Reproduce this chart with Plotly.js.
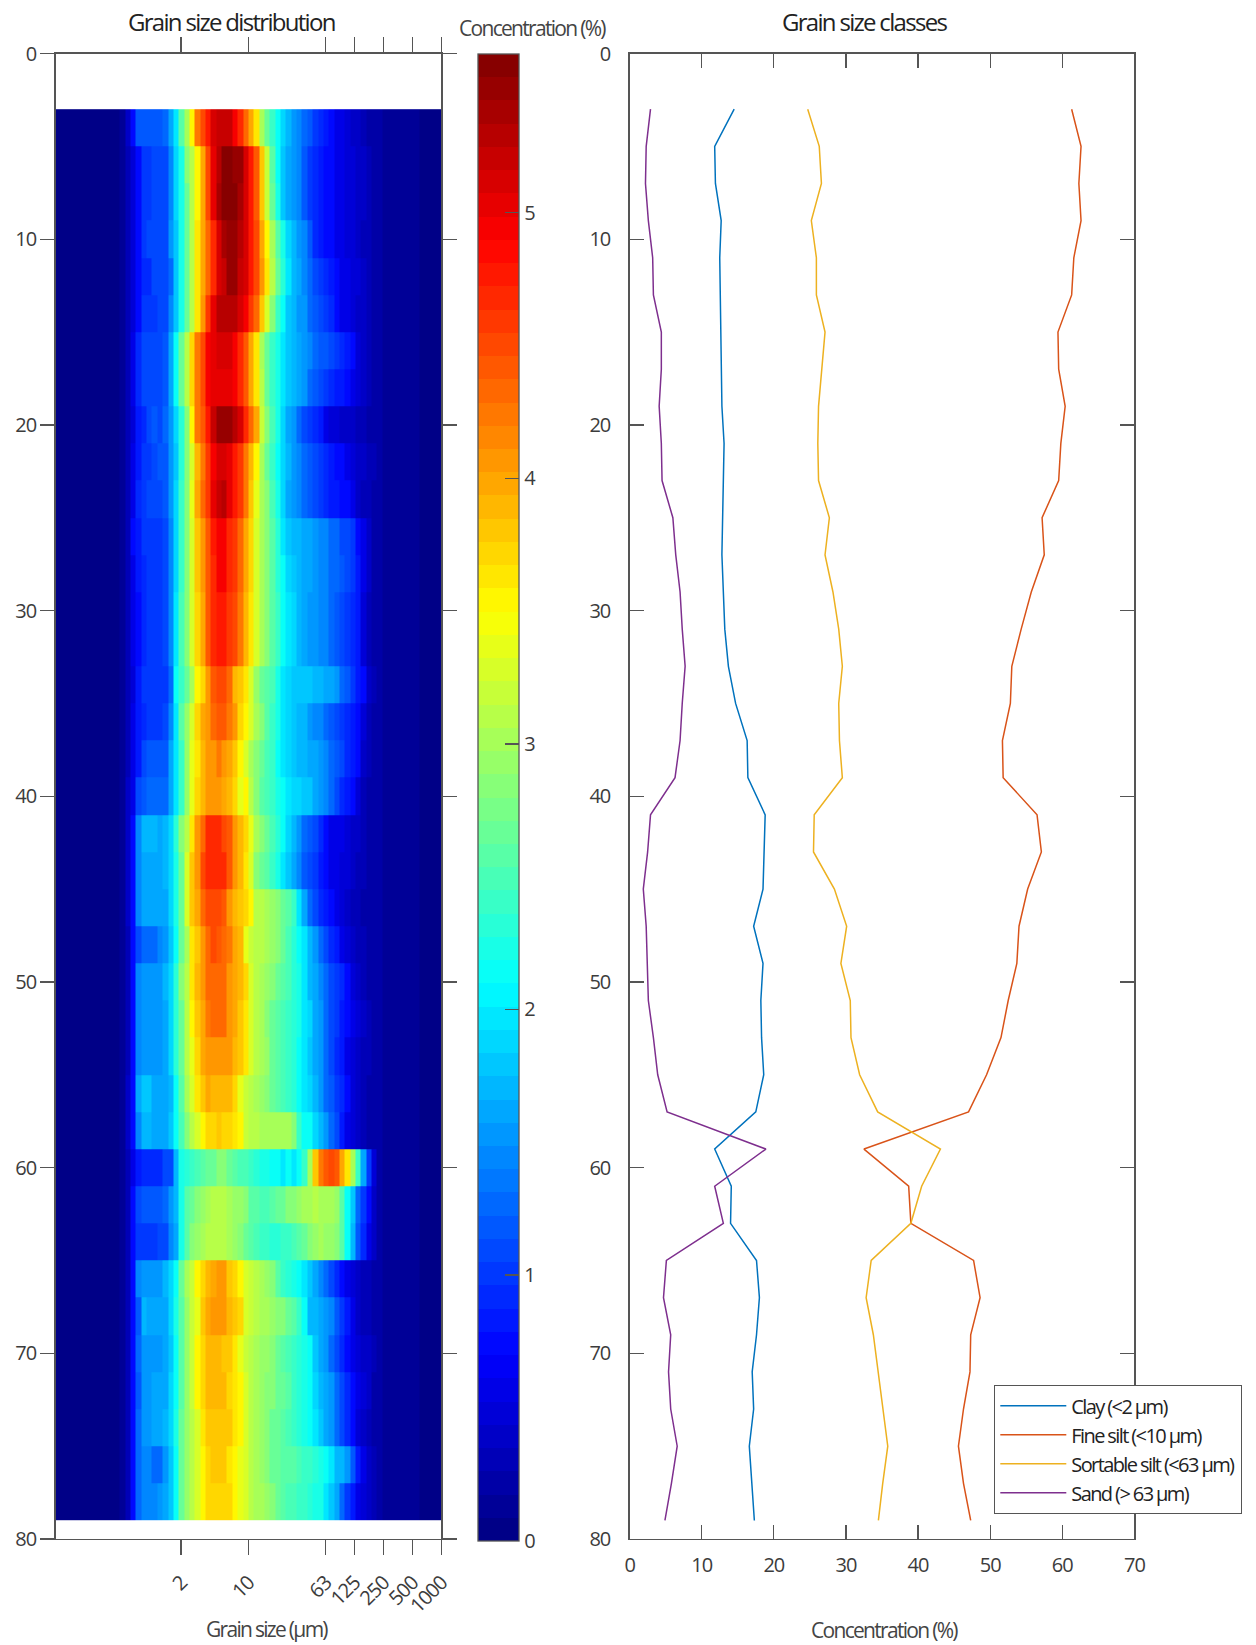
<!DOCTYPE html>
<html><head><meta charset="utf-8">
<script src="https://cdn.plot.ly/plotly-3.0.1.min.js"></script>
<style>html,body{margin:0;padding:0;background:#fff}
text{letter-spacing:-1px}
.annotation text,text.annotation-text{letter-spacing:-1.7px}
text.legendtext{letter-spacing:-1.6px}</style>
</head><body><div id="c" style="width:1256px;height:1645px"></div>
<script>
const grainEdges=[0.1,0.1136,0.1292,0.1468,0.1668,0.1896,0.2154,0.2448,0.2783,0.3162,0.3594,0.4084,0.4642,0.5275,0.5995,0.6813,0.7743,0.88,1,1.136,1.292,1.468,1.668,1.896,2.154,2.448,2.783,3.162,3.594,4.084,4.642,5.275,5.995,6.813,7.743,8.8,10,11.36,12.92,14.68,16.68,18.96,21.54,24.48,27.83,31.62,35.94,40.84,46.42,52.75,59.95,68.13,77.43,88,100,113.6,129.2,146.8,166.8,189.6,215.4,244.8,278.3,316.2,359.4,408.4,464.2,527.5,599.5,681.3,774.3,880,1000];
const depthEdges=[3,5,7,9,11,13,15,17,19,21,23,25,27,29,31,33,35,37,39,41,43,45,47,49,51,53,55,57,59,61,63,65,67,69,71,73,75,77,79];
const depthPoints=[3,5,7,9,11,13,15,17,19,21,23,25,27,29,31,33,35,37,39,41,43,45,47,49,51,53,55,57,59,61,63,65,67,69,71,73,75,77,79];
// concentration in tenths of a percent: fine bins below and coarse bins above the core
const fineFloor=[0,0,0,0,0,0,0,0,0,0,0,0,1];
const coarseFloor=[1,1,1,1,1,1,1,0,0,0,0];
const coreRows=[
[4,7,12,12,12,12,12,13,16,20,26,30,35,42,45,48,51,52,52,52,49,47,43,40,36,30,27,24,21,19,17,15,14,13,12,10,9,8,7,6,6,5,4,4,3,2,2,2],
[3,5,7,10,10,11,11,11,14,19,22,28,31,35,40,45,50,53,56,56,55,55,51,48,44,38,32,26,21,18,16,15,14,12,10,9,8,7,7,6,6,5,5,4,4,3,2,2],
[3,5,7,10,10,11,11,11,14,19,22,27,31,35,40,45,50,54,56,56,56,54,51,48,44,38,32,27,22,18,16,15,14,12,10,9,8,7,7,6,6,5,5,4,4,3,2,2],
[3,5,7,10,11,11,11,11,15,18,22,27,31,36,40,43,47,51,54,55,55,53,51,48,45,40,35,30,26,22,19,17,15,14,12,9,8,7,7,6,6,5,5,4,3,3,2,2],
[3,5,7,9,9,11,11,11,13,18,22,27,31,36,40,43,47,51,52,55,55,52,51,48,45,41,36,31,27,23,20,17,16,14,13,11,10,9,8,7,6,6,5,5,4,3,2,2],
[3,5,7,10,10,10,11,11,14,18,22,27,31,36,41,46,50,53,53,53,53,51,49,46,43,38,33,28,24,21,18,17,15,15,13,12,11,10,9,7,6,6,5,4,4,3,2,2],
[3,6,9,11,11,11,11,12,16,21,27,31,37,42,45,49,50,51,51,51,49,47,44,40,36,30,27,24,22,20,18,17,16,15,14,13,12,12,11,10,9,8,7,5,4,3,2,2],
[3,6,9,11,11,11,11,12,16,21,27,31,37,42,45,49,50,50,50,50,49,47,44,40,36,31,27,24,22,20,18,17,16,15,13,12,11,10,9,8,8,7,6,5,4,3,2,2],
[3,5,8,9,11,12,11,13,15,19,23,28,35,42,44,48,52,55,55,55,53,51,47,43,40,32,28,25,22,19,16,15,13,11,10,9,8,6,5,5,4,4,4,3,3,2,2,2],
[3,6,8,10,10,11,12,12,15,18,23,28,33,39,42,46,49,51,51,50,48,46,42,39,35,30,27,24,21,19,17,15,14,13,12,11,10,9,8,7,7,6,5,4,4,3,3,2],
[3,6,9,10,11,11,11,12,15,19,24,28,34,40,43,46,50,52,53,50,48,46,42,38,34,30,28,25,22,19,16,15,14,13,12,11,10,9,8,8,7,7,6,4,3,3,2,2],
[3,7,8,10,10,10,10,11,14,19,24,28,33,38,41,44,48,49,49,47,46,43,40,37,33,30,28,26,23,20,18,17,17,16,16,15,14,14,13,13,11,11,10,7,6,4,2,2],
[3,6,8,9,10,10,10,11,14,19,24,28,33,38,41,44,47,49,49,47,46,43,40,37,33,30,28,26,23,21,19,18,17,16,16,15,14,14,13,13,12,11,10,8,6,4,2,2],
[3,6,7,9,10,10,10,11,14,20,25,28,33,37,40,44,47,48,48,46,45,42,39,36,33,30,28,26,24,21,20,19,17,16,15,15,14,14,13,12,11,10,9,8,5,3,2,2],
[3,6,7,9,10,10,10,11,14,20,25,28,33,37,40,44,47,48,48,46,45,42,39,36,33,30,28,26,24,21,20,19,17,16,15,15,14,14,13,12,11,10,9,8,5,3,2,2],
[3,5,8,10,10,10,10,10,13,21,24,27,30,35,37,41,44,45,45,43,39,38,36,33,29,27,26,25,22,20,19,18,18,18,18,17,17,16,16,15,13,12,10,8,7,4,3,2],
[3,6,8,9,10,10,10,11,14,20,26,29,33,37,40,41,43,44,44,42,41,37,35,33,30,28,26,24,22,20,19,18,17,17,15,14,14,13,12,11,10,9,8,7,5,3,2,2],
[3,6,8,11,12,12,12,12,16,20,24,29,34,36,39,41,41,42,41,40,38,35,33,30,28,27,25,24,21,20,19,18,17,17,16,16,15,14,13,12,11,9,8,7,4,3,2,2],
[4,6,11,12,13,13,13,13,16,20,24,29,34,37,39,41,41,41,40,39,37,34,35,31,28,26,25,24,22,21,20,19,19,18,18,16,15,14,13,11,9,8,7,5,3,2,2,2],
[4,7,14,17,17,17,16,17,19,23,28,31,36,41,43,47,47,47,45,44,41,39,37,34,30,28,27,25,23,21,19,17,15,13,12,11,9,7,6,6,6,5,4,4,3,2,2,2],
[4,7,14,16,16,16,16,17,19,22,27,33,38,41,45,47,47,47,47,44,41,39,36,33,28,27,26,24,22,20,18,16,14,12,11,10,8,7,6,6,5,5,4,3,3,2,2,2],
[4,7,14,16,16,16,16,16,19,22,27,33,38,40,43,45,45,45,44,41,39,38,37,35,31,31,30,29,28,27,26,24,20,16,13,11,9,8,7,6,5,4,3,3,2,2,2,2],
[3,7,11,13,13,13,14,15,18,21,27,30,36,38,41,43,45,44,43,42,40,39,34,32,31,31,30,29,28,27,25,23,21,20,17,15,13,11,9,8,6,5,4,3,3,2,2,2],
[3,7,14,15,15,15,15,17,19,23,28,31,36,39,41,43,43,43,43,41,40,39,37,33,31,30,29,28,27,26,25,23,22,20,17,16,14,13,11,10,9,7,5,4,3,2,2,2],
[3,7,14,15,15,15,15,16,19,23,27,31,35,38,40,42,43,43,43,41,40,38,36,33,31,30,28,27,26,25,24,23,22,20,19,16,15,13,11,10,8,7,6,5,4,3,2,2],
[3,7,14,15,15,15,15,16,19,23,27,31,34,37,40,41,41,41,41,41,39,38,36,33,31,30,29,27,26,25,24,23,21,20,18,16,15,13,11,9,8,6,5,4,3,3,2,2],
[4,7,16,18,18,16,16,16,17,21,26,30,33,36,38,40,39,39,39,39,37,34,32,31,30,29,28,27,26,25,24,23,21,20,19,17,15,13,12,10,9,7,5,4,3,2,2,2],
[4,7,14,17,17,16,16,16,18,21,25,28,31,33,35,37,37,38,37,37,36,35,32,31,31,30,30,30,30,30,30,28,24,21,21,19,17,15,13,11,8,6,5,4,3,2,2,2],
[3,6,8,9,9,9,9,11,11,17,22,23,24,25,26,27,27,28,28,27,26,25,25,24,23,22,22,21,21,20,21,20,21,24,30,38,42,44,45,44,40,36,30,24,16,10,5,2],
[3,7,11,12,12,12,12,13,15,17,22,26,27,28,29,30,31,31,31,30,29,29,28,26,26,25,25,26,27,27,28,28,29,30,30,31,30,30,30,29,26,21,18,13,10,7,4,2],
[3,7,10,10,10,10,11,11,14,16,22,26,28,29,30,31,31,31,31,30,29,28,27,26,25,24,24,23,23,24,24,25,26,27,28,29,30,29,29,28,26,21,17,12,9,6,4,2],
[3,7,14,15,15,15,15,17,19,21,27,30,32,35,37,39,40,41,41,38,37,35,33,32,31,30,29,28,26,24,23,22,21,20,18,16,14,13,11,9,7,6,5,4,3,3,2,2],
[3,7,12,17,16,16,16,16,19,22,26,29,32,34,38,40,41,41,41,39,38,37,33,32,31,30,30,29,28,28,27,26,24,21,17,17,16,15,14,12,10,8,6,4,3,3,2,2],
[3,7,13,15,15,15,15,16,18,21,26,29,32,35,37,39,39,39,38,38,36,34,32,31,30,29,29,28,27,26,25,24,23,22,21,18,16,15,13,11,9,7,6,5,4,4,3,2],
[3,7,12,15,15,16,16,16,19,21,26,29,32,35,37,39,39,39,39,37,36,35,33,31,30,29,28,28,27,27,26,24,23,22,21,19,17,16,15,13,11,9,7,6,5,4,2,2],
[3,7,13,15,15,16,16,17,19,22,27,29,31,33,36,38,38,38,38,38,36,35,33,31,30,29,28,27,27,26,25,24,23,22,21,20,18,16,15,13,11,9,7,5,4,3,2,2],
[3,7,13,14,14,13,13,15,18,21,27,29,31,33,35,37,38,38,38,36,35,34,33,31,30,29,28,27,27,26,26,26,25,24,24,23,22,21,20,17,17,15,12,8,6,4,3,2],
[3,7,13,14,14,14,15,16,18,21,27,29,31,33,35,37,37,37,37,37,35,34,33,31,30,30,29,28,27,26,25,25,24,24,23,22,22,20,18,16,13,10,8,6,5,4,3,2]
];
const clayPct=[14.5,11.8,11.9,12.7,12.5,12.6,12.6,12.7,12.8,13.1,13.0,13.0,12.8,13.0,13.2,13.7,14.7,16.3,16.4,18.8,18.6,18.5,17.2,18.5,18.2,18.3,18.6,17.5,11.8,14.1,14.0,17.6,18.0,17.6,17.0,17.2,16.6,16.9,17.3];
const fineSiltPct=[61.3,62.6,62.3,62.6,61.6,61.3,59.4,59.5,60.4,59.8,59.5,57.2,57.5,55.7,54.3,53.0,52.8,51.7,51.8,56.5,57.1,55.2,54.0,53.7,52.5,51.5,49.5,47.0,32.5,38.7,39.0,47.7,48.6,47.3,47.2,46.3,45.6,46.3,47.3];
const sortableSiltPct=[24.7,26.3,26.6,25.2,25.9,25.9,27.1,26.6,26.2,26.1,26.2,27.7,27.1,28.2,29.0,29.5,29.0,29.1,29.5,25.6,25.5,28.4,30.1,29.3,30.6,30.7,31.9,34.4,43.1,40.5,39.0,33.5,32.8,33.8,34.5,35.2,35.8,35.1,34.5];
const sandPct=[2.9,2.3,2.2,2.6,3.2,3.3,4.4,4.4,4.1,4.4,4.5,6.0,6.4,7.0,7.3,7.7,7.3,7.0,6.3,2.9,2.5,1.9,2.3,2.4,2.6,3.3,3.9,5.2,18.9,11.8,13.0,5.1,4.7,5.7,5.4,5.7,6.6,5.8,4.9];
const seriesNames=['Clay (<2 µm)','Fine silt (<10 µm)','Sortable silt (<63 µm)','Sand (> 63 µm)'];
const seriesColors=['#0072BD','#D95319','#EDB120','#7E2F8E'];
const grainTicks=[2,10,63,125,250,500,1000];
const depthTicks=[0,10,20,30,40,50,60,70,80];
const concTicks=[0,10,20,30,40,50,60,70];
const barTicks=[0,1,2,3,4,5];

const W=1256,H=1645;
const fx=p=>p/W, fy=p=>1-p/H;
function jet(){const out=[],cl=v=>Math.round(255*Math.max(0,Math.min(1,v)));
  for(let i=0;i<64;i++){const f=(i+.5)/64;
    const c=`rgb(${cl(Math.min(4*f-1.5,4.5-4*f))},${cl(Math.min(4*f-.5,3.5-4*f))},${cl(Math.min(4*f+.5,2.5-4*f))})`;
    out.push([i/64,c],[(i+1)/64,c]);}
  return out;}
const z=coreRows.map(r=>fineFloor.concat(r,coarseFloor).map(v=>v/10));
const FONT='Open Sans', AX='#555555', TXT='#3c3c3c', TF={family:FONT,size:20,color:TXT};
const traces=[{type:'heatmap',x:grainEdges,y:depthEdges,z:z,xaxis:'x',yaxis:'y',zmin:0,zmax:5.6,colorscale:jet(),showlegend:false,zsmooth:false,
  colorbar:{x:fx(477.5),xanchor:'left',xref:'paper',y:fy(53.5),yanchor:'top',yref:'paper',lenmode:'pixels',len:1487,thicknessmode:'pixels',thickness:41,xpad:0,ypad:0,
   outlinecolor:AX,outlinewidth:1.3,tickvals:barTicks,ticks:'inside',ticklen:14,tickcolor:AX,tickwidth:1.3,tickfont:TF}}];
[clayPct,fineSiltPct,sortableSiltPct,sandPct].forEach((s,i)=>traces.push({type:'scatter',mode:'lines',x:s,y:depthPoints,xaxis:'x2',yaxis:'y2',name:seriesNames[i],line:{color:seriesColors[i],width:1.5}}));
const ann=(text,px,py,size,color)=>({text,x:fx(px),y:fy(py),xref:'paper',yref:'paper',xanchor:'center',yanchor:'middle',showarrow:false,font:{family:FONT,size,color}});
const common={tickwidth:1.3,tickcolor:AX,showline:true,linecolor:AX,linewidth:1.3,showgrid:false,zeroline:false,tickfont:TF,mirror:'allticks',tickmode:'array'};
const layout={width:W,height:H,margin:{l:0,r:0,t:0,b:0},paper_bgcolor:'#fff',plot_bgcolor:'#fff',
 xaxis:{...common,type:'log',domain:[fx(55.5),fx(441.3)],range:[-1,3],tickvals:grainTicks,ticktext:grainTicks.map(String),tickangle:-45,ticks:'outside',ticklen:15,ticklabelstandoff:8},
 yaxis:{...common,domain:[fy(1539),fy(53.5)],range:[80,0],tickvals:depthTicks,ticks:'outside',ticklen:14},
 xaxis2:{...common,anchor:'y2',domain:[fx(629.6),fx(1134.4)],range:[0,70],tickvals:concTicks,ticks:'inside',ticklen:14,ticklabelstandoff:8},
 yaxis2:{...common,anchor:'x2',domain:[fy(1539),fy(53.5)],range:[80,0],tickvals:depthTicks,ticks:'inside',ticklen:14,ticklabelstandoff:14},
 legend:{x:fx(994),xanchor:'left',y:fy(1385),yanchor:'top',bgcolor:'#fff',bordercolor:AX,borderwidth:1.3,itemwidth:66,entrywidth:166,entrywidthmode:'pixels',font:{family:FONT,size:20,color:'#222'},tracegroupgap:0},
 annotations:[ann('Grain size distribution',232,21,24,'#222'),ann('Grain size classes',864,21,24,'#222'),ann('Concentration (%)',532,28,21,'#444'),ann('Grain size (µm)',267,1629,21,'#444'),ann('Concentration (%)',884,1630,21,'#444')]};
Plotly.newPlot('c',traces,layout,{displayModeBar:false,staticPlot:true});
</script></body></html>
